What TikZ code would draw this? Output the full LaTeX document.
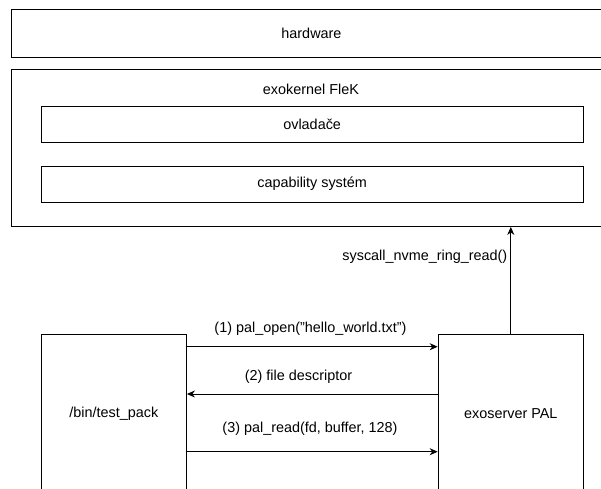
\documentclass[tikz,border=0pt]{standalone}
\usepackage{fontspec}
\setmainfont{Liberation Sans}
\usetikzlibrary{arrows.meta}
\begin{document}
\begin{tikzpicture}[x=1pt,y=-1pt,
  box/.style={draw=black,line width=0.9pt,rectangle,inner sep=0pt,anchor=north west},
  lbl/.style={font=\fontsize{14.4}{17}\selectfont,inner sep=0pt},
  arr/.style={line width=0.9pt,-{Stealth[length=8pt,width=7pt,inset=2.5pt]}}]
\useasboundingbox (0,0) rectangle (601,488);
% layers
\node[box,minimum width=600pt,minimum height=48pt] (hw) at (11,9.3) {};
\node[lbl] (hwt) at (hw.center) {hardware};
\node[box,minimum width=600pt,minimum height=156.7pt] (exo) at (11,69.3) {};
\node[lbl] (exot) at (311,89) {exokernel FleK};
\node[box,minimum width=542pt,minimum height=35.7pt] (ovl) at (40.7,106) {};
\node[lbl] (ovlt) at (ovl.center) {ovladače};
\node[box,minimum width=542pt,minimum height=36pt] (cap) at (40.7,165.7) {};
\node[lbl] (capt) at (cap.center) {capability systém};
% processes
\node[box,minimum width=145.3pt,minimum height=158pt] (tp) at (40.7,334) {};
\node[lbl] (tpt) at (tp.center) {/bin/test\_pack};
\node[box,minimum width=145.3pt,minimum height=158pt] (pal) at (437.7,334) {};
\node[lbl] (palt) at (pal.center) {exoserver PAL};
% coordinates for messages
\coordinate (a1s) at (tp.east |- 0,346.7);
\coordinate (a1e) at (pal.west |- 0,346.7);
\coordinate (a2s) at (pal.west |- 0,394);
\coordinate (a2e) at (tp.east |- 0,394);
\coordinate (a3s) at (tp.east |- 0,451.7);
\coordinate (a3e) at (pal.west |- 0,451.7);
\draw[arr] (a1s) -- (a1e);
\draw[arr] (a2s) -- (a2e);
\draw[arr] (a3s) -- (a3e);
\node[lbl] (l1) at (310.5,329) {(1) pal\_open(\symbol{34}hello\_world.txt\symbol{34})};
\node[lbl] (l2) at (298.5,376.7) {(2) file descriptor};
\node[lbl] (l3) at (310,428.5) {(3) pal\_read(fd, buffer, 128)};
\draw[arr] (pal.north) -- (pal.north |- exo.south);
\node[lbl,anchor=east] (ls) at (507.5,256.7) {syscall\_nvme\_ring\_read()};
\end{tikzpicture}
\end{document}
